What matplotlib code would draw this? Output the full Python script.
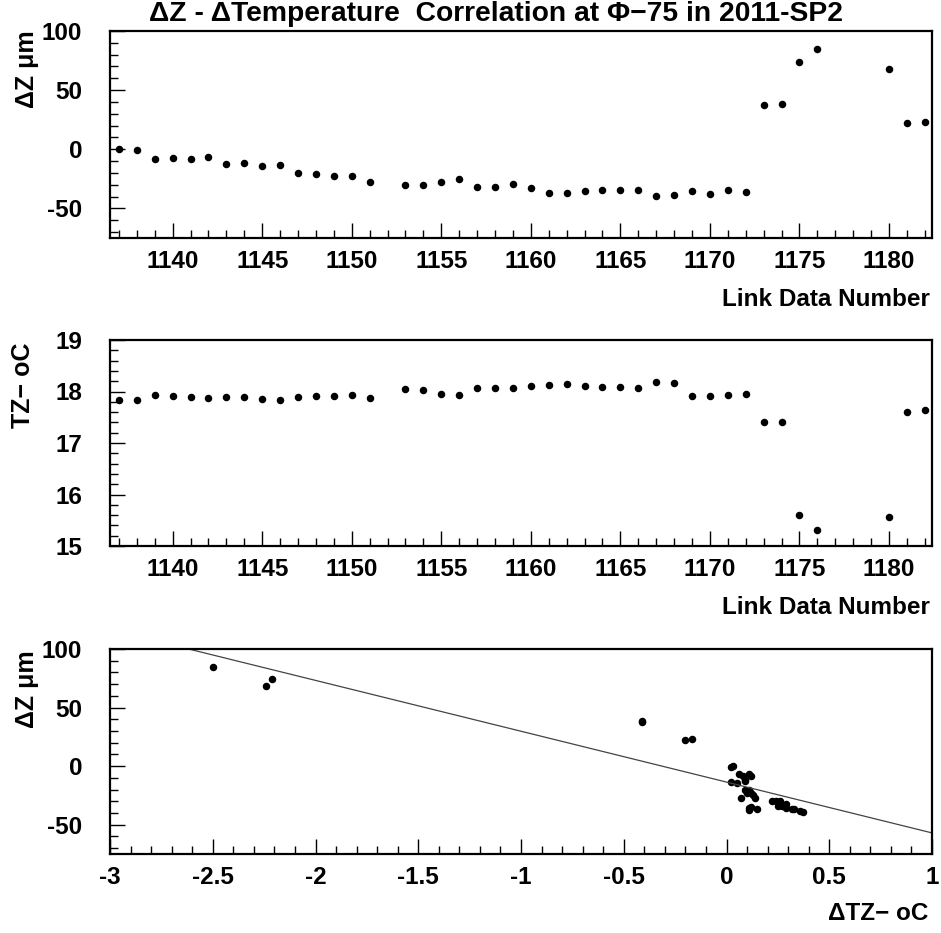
import numpy as np
import matplotlib
matplotlib.use("Agg")
import matplotlib.pyplot as plt
from matplotlib.ticker import MultipleLocator

plt.rcParams['font.family'] = ['Liberation Sans', 'DejaVu Sans']
plt.rcParams['font.weight'] = 'bold'

# link data numbers (1152 and 1177-1179 have no data)
link = [1137, 1138, 1139, 1140, 1141, 1142, 1143, 1144, 1145, 1146,
        1147, 1148, 1149, 1150, 1151, 1153, 1154, 1155, 1156, 1157,
        1158, 1159, 1160, 1161, 1162, 1163, 1164, 1165, 1166, 1167,
        1168, 1169, 1170, 1171, 1172, 1173, 1174, 1175, 1176, 1180,
        1181, 1182]

# delta Z in microns
dz = [0.0, -1.0, -8.5, -7.0, -8.0, -6.5, -12.5, -11.5, -14.0, -13.5,
      -20.0, -20.5, -22.5, -22.5, -27.5, -30.0, -30.0, -27.5, -25.0, -32.0,
      -31.5, -29.5, -32.5, -37.0, -37.0, -35.5, -34.0, -34.0, -34.0, -39.5,
      -38.5, -35.5, -37.5, -34.5, -36.5, 37.5, 38.5, 74.0, 85.0, 68.0,
      22.5, 23.0]

# TZ temperature in deg C
temp = [17.84, 17.83, 17.93, 17.92, 17.89, 17.87, 17.90, 17.90, 17.86, 17.83,
        17.90, 17.92, 17.91, 17.93, 17.88, 18.05, 18.03, 17.95, 17.94, 18.07,
        18.07, 18.07, 18.10, 18.13, 18.14, 18.10, 18.08, 18.09, 18.06, 18.18,
        18.17, 17.92, 17.92, 17.93, 17.96, 17.40, 17.40, 15.60, 15.31, 15.57,
        17.61, 17.64]

t_ref = 17.81
# straight-line fit dZ = p0 + p1 * dT
fit_p0 = -13.6
fit_p1 = -43.4

dtz = np.array(temp) - t_ref

W, H = 941, 933
fig = plt.figure(figsize=(W / 100, H / 100), dpi=100)


def frac_box(x0, y0, x1, y1):
    return [x0 / W, 1 - y1 / H, (x1 - x0) / W, (y1 - y0) / H]


def style(ax, xmaj, xmin, ymaj, ymin, pad_y=20):
    for s in ax.spines.values():
        s.set_linewidth(1.6)
    ax.xaxis.set_major_locator(MultipleLocator(xmaj))
    ax.xaxis.set_minor_locator(MultipleLocator(xmin))
    ax.yaxis.set_major_locator(MultipleLocator(ymaj))
    ax.yaxis.set_minor_locator(MultipleLocator(ymin))
    ax.tick_params(which='both', direction='in', top=False, right=False,
                   labelsize=17.5, width=1.0)
    ax.tick_params(which='major', length=11)
    ax.tick_params(which='minor', length=5.5)
    ax.tick_params(axis='y', which='major', pad=pad_y)
    ax.tick_params(axis='x', which='major', pad=9)
    for lab in ax.get_xticklabels() + ax.get_yticklabels():
        lab.set_fontweight('bold')


mk = dict(ls='none', marker='o', ms=4.4, color='black')

# dZ vs link number
ax1 = fig.add_axes(frac_box(110, 31, 932, 238))
ax1.plot(link, dz, **mk)
ax1.set_xlim(1136.5, 1182.4)
ax1.set_ylim(-75, 100)
style(ax1, 5, 1, 50, 10)

# temperature vs link number
ax2 = fig.add_axes(frac_box(110, 340, 932, 546))
ax2.plot(link, temp, **mk)
ax2.set_xlim(1136.5, 1182.4)
ax2.set_ylim(15, 19)
style(ax2, 5, 1, 1, 0.2)

# dZ vs dT with the fitted line
ax3 = fig.add_axes(frac_box(110, 649, 932, 854))
ax3.plot(dtz, dz, **mk)
xf = np.array([-3.0, 1.0])
ax3.plot(xf, fit_p0 + fit_p1 * xf, color='#444444', lw=0.9)
ax3.set_xlim(-3, 1)
ax3.set_ylim(-75, 100)
style(ax3, 0.5, 0.1, 50, 10)
ax3.set_xticks([-3, -2.5, -2, -1.5, -1, -0.5, 0, 0.5, 1])
ax3.set_xticklabels(['-3', '-2.5', '-2', '-1.5', '-1', '-0.5', '0', '0.5', '1'])
for lab in ax3.get_xticklabels():
    lab.set_fontweight('bold')

for ax in (ax1, ax3):
    ax.set_yticks([-50, 0, 50, 100])
    ax.set_yticklabels(['-50', '0', '50', '100'])
    for lab in ax.get_yticklabels():
        lab.set_fontweight('bold')

fig.text(496 / W, 1 - 14 / H,
         'ΔZ - ΔTemperature  Correlation at Φ−75 in 2011-SP2',
         ha='center', va='center', fontsize=20.3, fontweight='bold')

fig.text(27 / W, 1 - 30 / H, 'ΔZ μm', rotation=90, ha='center', va='top',
         fontsize=18, fontweight='bold')
fig.text(23 / W, 1 - 343 / H, 'TZ− oC', rotation=90, ha='center', va='top',
         fontsize=18, fontweight='bold')
fig.text(27 / W, 1 - 650 / H, 'ΔZ μm', rotation=90, ha='center', va='top',
         fontsize=18, fontweight='bold')

fig.text(930 / W, 1 - 300 / H, 'Link Data Number', ha='right', va='center',
         fontsize=17.5, fontweight='bold')
fig.text(930 / W, 1 - 608 / H, 'Link Data Number', ha='right', va='center',
         fontsize=17.5, fontweight='bold')
fig.text(928 / W, 1 - 913 / H, 'ΔTZ− oC', ha='right', va='center',
         fontsize=17.5, fontweight='bold')

fig.savefig('out.png', dpi=100)
